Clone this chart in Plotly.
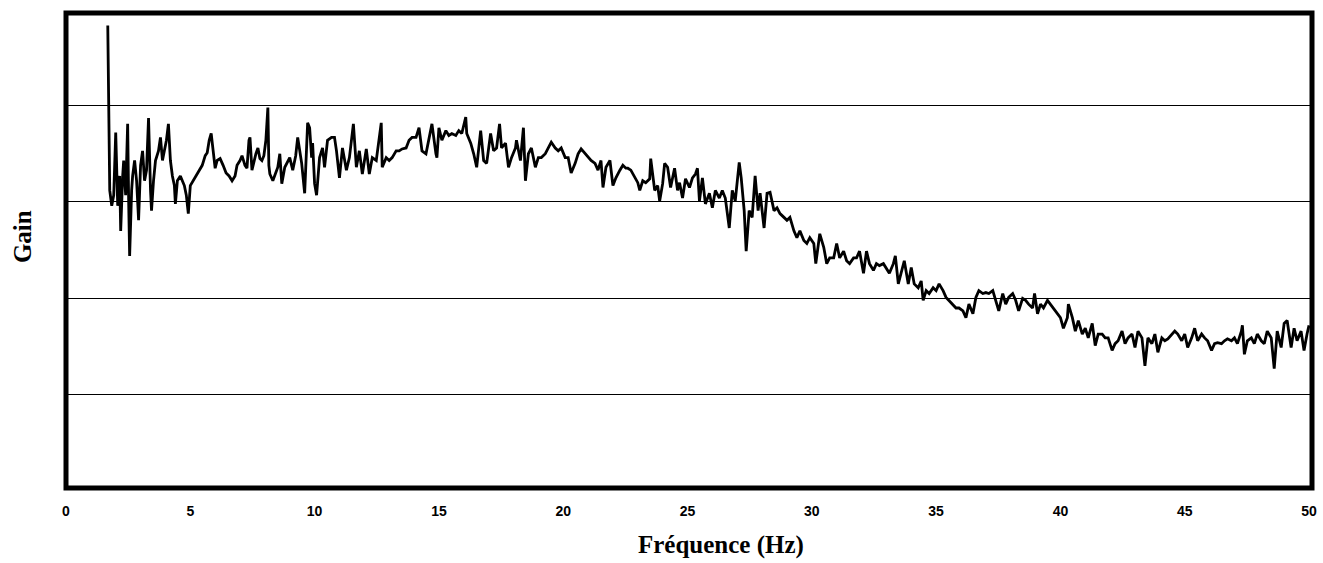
import plotly.graph_objects as go

# Spectre de gain mesuré (fréquence en Hz, gain en dB)
freq_hz = [
    1.68, 1.76, 1.84, 1.92, 2.00, 2.08, 2.16, 2.20, 2.28, 2.32, 2.40, 2.48, 2.52, 2.56, 2.64, 2.68,
    2.76, 2.84, 2.92, 3.00, 3.08, 3.16, 3.24, 3.32, 3.40, 3.44, 3.52, 3.60, 3.72, 3.80, 3.88, 3.96,
    4.04, 4.12, 4.20, 4.28, 4.36, 4.40, 4.48, 4.60, 4.68, 4.76, 4.84, 4.92, 5.00, 5.12, 5.24, 5.36,
    5.48, 5.60, 5.68, 5.76, 5.84, 5.92, 6.00, 6.08, 6.20, 6.32, 6.44, 6.56, 6.68, 6.80, 6.88, 7.00,
    7.08, 7.20, 7.28, 7.36, 7.40, 7.48, 7.56, 7.64, 7.72, 7.80, 7.88, 7.96, 8.04, 8.12, 8.16, 8.20,
    8.32, 8.44, 8.52, 8.60, 8.68, 8.80, 8.92, 9.00, 9.12, 9.24, 9.32, 9.48, 9.60, 9.68, 9.72, 9.80,
    9.88, 9.92, 10.00, 10.08, 10.20, 10.32, 10.40, 10.52, 10.68, 10.80, 10.88, 11.00, 11.12, 11.28,
    11.40, 11.56, 11.68, 11.80, 11.92, 12.08, 12.20, 12.32, 12.48, 12.68, 12.72, 12.88, 13.00, 13.12,
    13.28, 13.40, 13.52, 13.68, 13.80, 13.92, 14.08, 14.20, 14.32, 14.48, 14.60, 14.72, 14.88, 14.92,
    15.00, 15.12, 15.28, 15.40, 15.52, 15.68, 15.80, 15.92, 16.08, 16.12, 16.28, 16.40, 16.52, 16.68,
    16.80, 16.92, 17.08, 17.20, 17.32, 17.44, 17.52, 17.68, 17.80, 17.92, 18.08, 18.12, 18.28, 18.40,
    18.48, 18.60, 18.72, 18.88, 19.00, 19.12, 19.28, 19.40, 19.52, 19.68, 19.80, 19.92, 20.08, 20.20,
    20.32, 20.48, 20.60, 20.72, 20.88, 21.00, 21.12, 21.28, 21.40, 21.52, 21.60, 21.72, 21.88, 22.00,
    22.12, 22.28, 22.40, 22.52, 22.60, 22.72, 22.88, 23.00, 23.08, 23.20, 23.32, 23.48, 23.52, 23.68,
    23.80, 23.88, 24.00, 24.08, 24.20, 24.32, 24.48, 24.60, 24.68, 24.80, 24.92, 25.08, 25.20, 25.32,
    25.40, 25.48, 25.60, 25.72, 25.88, 26.00, 26.12, 26.28, 26.40, 26.52, 26.68, 26.80, 26.92, 27.08,
    27.16, 27.28, 27.36, 27.48, 27.60, 27.72, 27.84, 27.92, 28.08, 28.20, 28.32, 28.48, 28.60, 28.72,
    28.88, 29.00, 29.12, 29.28, 29.40, 29.52, 29.68, 29.80, 29.92, 30.08, 30.16, 30.32, 30.48, 30.60,
    30.72, 30.88, 31.00, 31.12, 31.28, 31.40, 31.52, 31.68, 31.80, 31.92, 32.08, 32.20, 32.32, 32.48,
    32.60, 32.72, 32.88, 33.00, 33.12, 33.28, 33.36, 33.48, 33.60, 33.72, 33.88, 34.00, 34.12, 34.28,
    34.40, 34.48, 34.60, 34.72, 34.88, 35.00, 35.12, 35.28, 35.40, 35.52, 35.68, 35.80, 35.92, 36.08,
    36.20, 36.32, 36.48, 36.60, 36.72, 36.88, 37.00, 37.12, 37.28, 37.40, 37.52, 37.68, 37.80, 37.92,
    38.08, 38.20, 38.32, 38.48, 38.60, 38.72, 38.88, 38.96, 39.08, 39.20, 39.32, 39.48, 39.60, 39.72,
    39.88, 40.00, 40.12, 40.28, 40.32, 40.48, 40.60, 40.72, 40.88, 41.00, 41.12, 41.28, 41.40, 41.52,
    41.68, 41.80, 41.92, 42.08, 42.20, 42.32, 42.48, 42.60, 42.72, 42.88, 43.00, 43.12, 43.28, 43.40,
    43.52, 43.68, 43.80, 43.92, 44.08, 44.20, 44.32, 44.48, 44.60, 44.72, 44.88, 45.00, 45.12, 45.28,
    45.40, 45.52, 45.68, 45.80, 45.92, 46.08, 46.20, 46.32, 46.48, 46.60, 46.72, 46.88, 47.00, 47.12,
    47.28, 47.32, 47.40, 47.52, 47.68, 47.80, 47.92, 48.08, 48.20, 48.32, 48.48, 48.60, 48.72, 48.88,
    49.00, 49.12, 49.28, 49.40, 49.52, 49.68, 49.80, 49.92, 50.00,
]

gain_db = [
    8.3, -8.8, -10.4, -9.3, -2.8, -10.4, -7.3, -13.0, -7.3, -5.7, -9.3, -1.9, -9.9, -15.6, -8.8, -7.3,
    -5.7, -7.8, -11.9, -6.2, -4.7, -7.8, -6.7, -1.3, -8.8, -10.9, -7.8, -5.7, -4.7, -3.3, -5.7, -4.7,
    -3.6, -1.9, -5.7, -7.3, -8.3, -10.2, -7.8, -7.3, -7.8, -8.3, -9.3, -11.2, -8.3, -7.8, -7.3, -6.7,
    -6.2, -5.2, -4.9, -3.6, -2.9, -4.7, -6.5, -5.7, -5.5, -6.2, -7.0, -7.3, -7.8, -7.3, -6.2, -5.7,
    -5.2, -6.2, -6.5, -3.6, -3.3, -6.7, -5.7, -5.0, -4.4, -5.5, -5.7, -5.2, -3.6, -0.2, -6.2, -7.1,
    -7.8, -7.0, -6.4, -5.0, -8.1, -6.4, -5.7, -5.4, -6.7, -5.2, -3.3, -6.0, -9.1, -3.6, -1.8, -2.3,
    -5.4, -3.9, -8.1, -9.3, -5.4, -4.4, -6.4, -3.6, -3.3, -3.3, -4.7, -7.5, -4.4, -6.7,
    -5.4, -1.9, -6.4, -4.7, -7.1, -4.5, -7.1, -5.4, -5.7, -1.8, -6.4, -5.4, -5.7, -5.4,
    -4.7, -4.7, -4.5, -4.4, -3.6, -3.3, -3.3, -2.3, -4.7, -5.0, -3.6, -1.9, -5.0, -5.4,
    -2.3, -3.6, -2.6, -3.1, -2.9, -3.1, -2.6, -2.9, -1.2, -2.9, -3.9, -5.0, -6.4, -2.6,
    -5.7, -6.0, -2.9, -4.7, -4.4, -1.9, -4.4, -3.9, -6.4, -5.4, -4.4, -3.6, -5.7, -2.3,
    -7.8, -5.0, -4.4, -6.4, -5.4, -5.4, -5.0, -4.4, -3.8, -4.4, -4.7, -4.4, -5.4, -5.4,
    -7.0, -6.0, -5.0, -4.5, -5.0, -5.4, -5.7, -6.0, -6.7, -5.7, -8.5, -6.4, -5.7, -8.3,
    -7.5, -6.7, -6.2, -6.5, -6.5, -6.7, -7.5, -8.0, -8.8, -7.8, -8.0, -7.6, -5.5, -8.8,
    -8.3, -9.9, -8.1, -6.0, -6.4, -8.5, -6.5, -8.8, -8.0, -9.6, -7.6, -8.5, -7.5, -7.1,
    -6.5, -9.9, -7.5, -10.2, -9.1, -10.6, -8.8, -9.6, -8.8, -9.6, -12.7, -8.8, -9.9, -5.9,
    -7.5, -10.9, -15.1, -10.9, -11.6, -7.3, -10.9, -9.1, -12.7, -9.1, -9.0, -10.9, -10.6, -11.2,
    -11.6, -11.9, -11.6, -13.0, -13.7, -13.0, -14.0, -14.3, -13.7, -14.3, -16.4, -13.3, -14.7, -16.4,
    -15.8, -15.8, -14.3, -15.8, -15.1, -16.1, -16.4, -15.8, -15.8, -15.1, -17.4, -15.1, -16.4, -17.1,
    -16.4, -16.6, -16.4, -16.9, -17.4, -16.4, -15.6, -18.5, -17.4, -16.1, -18.5, -16.8, -18.5, -18.9,
    -18.2, -20.2, -19.2, -19.5, -18.9, -19.2, -18.5, -19.2, -19.9, -20.2, -20.6, -21.0, -21.0, -21.3,
    -22.0, -20.6, -21.6, -19.9, -19.2, -19.5, -19.4, -19.5, -19.2, -20.2, -21.3, -19.5, -20.6, -19.9,
    -19.5, -20.2, -21.3, -20.0, -20.2, -20.6, -21.0, -19.5, -21.6, -20.6, -21.0, -20.2, -20.6, -21.0,
    -21.6, -22.0, -23.1, -22.0, -20.6, -22.0, -23.4, -22.3, -23.7, -23.1, -24.1, -22.6, -24.9, -23.7,
    -23.7, -24.1, -24.1, -25.4, -24.7, -24.4, -23.4, -24.7, -24.1, -23.7, -25.1, -23.4, -24.1, -27.0,
    -24.1, -24.7, -23.7, -25.6, -24.1, -24.4, -24.2, -23.7, -23.4, -23.7, -24.4, -23.7, -25.1, -24.1,
    -23.1, -24.4, -23.7, -24.1, -24.4, -25.4, -24.7, -24.6, -24.7, -24.4, -24.2, -24.4, -24.1, -24.7,
    -23.4, -22.8, -25.8, -24.4, -24.1, -24.7, -23.7, -24.4, -24.7, -23.4, -24.1, -27.3, -23.4, -25.1,
    -22.6, -22.3, -25.1, -23.1, -24.4, -23.4, -25.4, -23.7, -22.8,
]

x_ticks = [0, 5, 10, 15, 20, 25, 30, 35, 40, 45, 50]
gain_grid = [-30, -20, -10, 0]

fig = go.Figure()
fig.add_trace(go.Scatter(
    x=freq_hz, y=gain_db, mode="lines",
    line=dict(color="black", width=2.8),
    showlegend=False, hoverinfo="skip",
))

fig.update_layout(
    width=1323, height=563,
    margin=dict(l=66, r=6, t=13, b=75),
    paper_bgcolor="white", plot_bgcolor="white",
    xaxis=dict(
        range=[0, 50.12], tickvals=x_ticks, ticktext=[str(v) for v in x_ticks],
        showgrid=False, zeroline=False, showline=False,
        ticks="", ticklabelstandoff=13,
        tickfont=dict(family="Liberation Sans", size=14, color="black", weight="bold"),
    ),
    yaxis=dict(
        range=[-39.67, 9.6], tickvals=gain_grid, showticklabels=False,
        showgrid=True, gridcolor="black", gridwidth=1, zeroline=False,
        showline=False, ticks="",
    ),
    # heavy frame centred on the plotting-area edges
    shapes=[dict(type="rect", xref="paper", yref="paper", x0=0, x1=1, y0=0, y1=1,
                 line=dict(color="black", width=5), fillcolor="rgba(0,0,0,0)", layer="above")],
    annotations=[
        dict(text="<b>Fréquence (Hz)</b>", xref="paper", yref="paper",
             x=0.5256, y=-0.1197, xanchor="center", yanchor="middle", showarrow=False,
             font=dict(family="Liberation Serif", size=25, color="black")),
        dict(text="<b>Gain</b>", xref="paper", yref="paper", textangle=-90,
             x=-0.035, y=0.529, xanchor="center", yanchor="middle", showarrow=False,
             font=dict(family="Liberation Serif", size=25, color="black")),
    ],
)

fig.write_html("out.html")
